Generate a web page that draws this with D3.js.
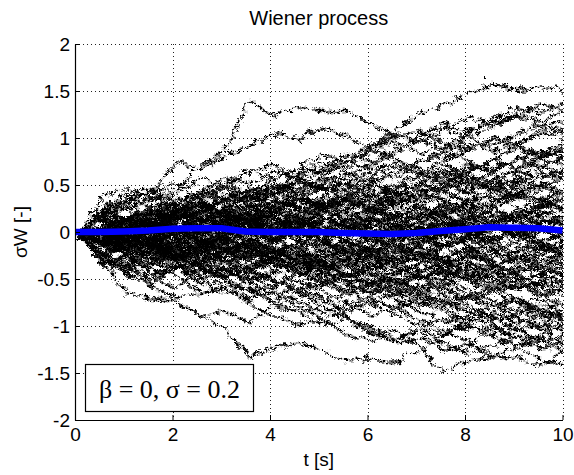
<!DOCTYPE html>
<html>
<head>
<meta charset="utf-8">
<script src="https://cdn.jsdelivr.net/npm/d3@7"></script>
<style>
  html, body { margin: 0; padding: 0; background: #fff; }
  svg { display: block; }
</style>
</head>
<body>
<svg id="chart" width="574" height="475"></svg>
<script>
// ---- data -------------------------------------------------------------
const timeGrid = [0, 0.5, 1, 1.5, 2, 2.5, 3, 3.5, 4, 4.5, 5, 5.5, 6, 6.5, 7, 7.5, 8, 8.5, 9, 9.5, 10];

// ensemble mean of the sample paths (blue curve)
const meanPath = [0, 0, 0.005, 0.015, 0.035, 0.04, 0.04, 0.005, 0, 0, 0, -0.01, -0.015, -0.02, -0.01, 0.01, 0.03, 0.05, 0.045, 0.04, 0.015];

// individual realisations sigma*W(t), sampled every 0.5 s
const samplePaths = [
  [0, 0.22, 0.30, 0.38, 0.50, 0.72, 0.90, 1.44, 1.27, 1.37, 1.33, 1.33, 1.18, 1.05, 1.12, 0.98, 0.90, 1.02, 0.95, 0.85, 0.92],
  [0, -0.05, 0.10, 0.18, 0.30, 0.22, 0.40, 0.52, 0.45, 0.65, 0.78, 0.70, 0.95, 1.12, 1.30, 1.38, 1.51, 1.62, 1.54, 1.58, 1.52],
  [0, 0.25, 0.40, 0.45, 0.79, 0.70, 0.85, 0.95, 1.08, 1.02, 1.15, 1.05, 0.92, 1.00, 0.88, 0.95, 1.10, 1.20, 1.28, 1.15, 1.22],
  [0, 0.42, 0.50, 0.38, 0.45, 0.60, 0.52, 0.68, 0.75, 0.62, 0.70, 0.85, 0.78, 0.92, 1.05, 1.18, 1.10, 1.25, 1.35, 1.30, 1.42],
  [0, -0.18, -0.30, -0.52, -0.70, -0.85, -1.00, -1.29, -1.20, -1.14, -1.22, -1.33, -1.30, -1.36, -1.22, -1.05, -0.95, -1.02, -0.90, -0.98, -0.85],
  [0, -0.05, -0.20, -0.35, -0.42, -0.60, -0.55, -0.72, -0.85, -0.95, -0.90, -1.05, -1.12, -1.00, -1.18, -1.45, -1.33, -1.28, -1.30, -1.39, -1.20],
  [0, -0.30, -0.62, -0.68, -0.70, -0.85, -0.80, -0.92, -0.75, -0.82, -0.95, -0.88, -1.02, -1.12, -0.98, -1.05, -0.92, -1.10, -1.18, -1.05, -1.12],
  [0, 0.18, -0.05, 0.10, 0.22, 0.15, 0.30, 0.42, 0.35, 0.50, 0.62, 0.55, 0.70, 0.78, 0.65, 0.80, 0.92, 1.05, 0.98, 1.12, 1.08],
  [0, -0.22, -0.35, -0.15, -0.30, -0.42, -0.35, -0.50, -0.62, -0.55, -0.68, -0.80, -0.72, -0.85, -0.95, -0.88, -1.02, -0.95, -1.10, -1.05, -0.98],
  [0, 0.25, 0.15, -0.08, 0.04, 0.18, 0.10, 0.25, 0.20, 0.08, 0.15, 0.28, 0.40, 0.32, 0.45, 0.38, 0.52, 0.60, 0.48, 0.55, 0.62],
  [0, -0.08, 0.05, 0.12, 0.02, -0.10, -0.02, -0.15, -0.25, -0.18, -0.30, -0.22, -0.35, -0.28, -0.40, -0.48, -0.42, -0.55, -0.50, -0.62, -0.58],
  [0, 0.28, 0.40, 0.30, 0.35, 0.48, 0.40, 0.32, 0.45, 0.58, 0.50, 0.38, 0.45, 0.30, 0.22, 0.35, 0.28, 0.15, 0.25, 0.12, 0.18],
  [0, -0.25, -0.40, -0.30, -0.32, -0.20, -0.35, -0.48, -0.40, -0.28, -0.38, -0.25, -0.12, -0.20, -0.08, 0.05, -0.05, 0.10, 0.02, 0.15, 0.08],
  [0, 0.05, 0.18, 0.10, 0.25, 0.38, 0.52, 0.45, 0.60, 0.72, 0.85, 0.78, 0.92, 1.05, 0.98, 1.12, 1.25, 1.18, 1.30, 1.22, 1.35],
  [0, -0.28, -0.20, -0.40, -0.35, -0.50, -0.62, -0.55, -0.70, -0.82, -0.75, -0.90, -1.02, -1.15, -1.08, -1.22, -1.15, -1.28, -1.20, -1.32, -1.38],
  [0, 0.10, 0.02, 0.15, 0.08, -0.05, -0.15, -0.08, 0.05, 0.12, 0.25, 0.18, 0.30, 0.22, 0.10, 0.02, -0.10, -0.02, 0.08, -0.05, 0.02],
  [0, -0.05, -0.15, -0.05, 0.08, 0.20, 0.12, 0.25, 0.18, 0.05, -0.08, -0.20, -0.12, -0.25, -0.38, -0.30, -0.42, -0.35, -0.48, -0.60, -0.52],
  [0, 0.30, 0.45, 0.52, 0.35, 0.48, 0.62, 0.55, 0.68, 0.60, 0.48, 0.55, 0.42, 0.50, 0.62, 0.75, 0.68, 0.80, 0.72, 0.85, 0.95],
  [0, -0.32, -0.22, -0.40, -0.38, -0.30, -0.45, -0.38, -0.25, -0.32, -0.45, -0.58, -0.70, -0.62, -0.75, -0.68, -0.80, -0.92, -0.85, -0.78, -0.90],
  [0, 0.08, 0.20, 0.12, 0.00, 0.10, 0.22, 0.35, 0.28, 0.40, 0.32, 0.20, 0.08, 0.15, 0.02, -0.10, -0.02, -0.15, -0.28, -0.20, -0.32],
  [0, -0.10, 0.02, -0.08, -0.20, -0.12, 0.00, 0.12, 0.05, 0.18, 0.30, 0.42, 0.35, 0.48, 0.40, 0.52, 0.65, 0.58, 0.70, 0.82, 0.75],
  [0, 0.05, -0.08, -0.20, -0.12, -0.25, -0.18, -0.05, 0.08, 0.00, -0.12, -0.05, 0.10, 0.02, -0.10, -0.22, -0.15, -0.28, -0.40, -0.32, -0.45],
  [0, 0.22, 0.35, 0.48, 0.28, 0.15, 0.25, 0.12, 0.02, 0.15, 0.05, 0.18, 0.28, 0.20, 0.32, 0.45, 0.38, 0.30, 0.42, 0.35, 0.28],
  [0, -0.12, -0.05, 0.08, 0.18, 0.10, 0.00, -0.12, -0.22, -0.35, -0.28, -0.40, -0.52, -0.45, -0.58, -0.70, -0.82, -0.75, -0.88, -1.00, -0.95],
  [0, 0.20, 0.30, 0.05, 0.15, 0.28, 0.40, 0.32, 0.20, 0.30, 0.42, 0.55, 0.48, 0.35, 0.45, 0.58, 0.70, 0.82, 0.95, 0.88, 1.00],
  [0, -0.20, -0.35, -0.45, -0.55, -0.35, -0.48, -0.60, -0.52, -0.40, -0.28, -0.35, -0.22, -0.32, -0.45, -0.38, -0.50, -0.42, -0.55, -0.48, -0.40],
  [0, 0.05, 0.15, 0.25, 0.18, 0.05, -0.05, 0.08, 0.20, 0.12, 0.25, 0.38, 0.30, 0.42, 0.55, 0.48, 0.35, 0.45, 0.38, 0.50, 0.45],
  [0, -0.05, 0.08, 0.00, -0.12, -0.02, -0.15, -0.25, -0.18, -0.30, -0.20, -0.08, -0.18, -0.05, 0.05, -0.08, 0.02, 0.12, 0.05, -0.05, 0.05],
  [0, 0.18, -0.02, -0.12, -0.25, -0.18, -0.30, -0.42, -0.55, -0.48, -0.60, -0.72, -0.65, -0.78, -0.70, -0.82, -0.95, -1.08, -1.00, -1.12, -1.05],
  [0, 0.25, 0.18, 0.30, 0.30, 0.42, 0.55, 0.68, 0.60, 0.72, 0.65, 0.78, 0.90, 0.82, 0.70, 0.62, 0.75, 0.65, 0.55, 0.68, 0.60],
  [0, -0.26, -0.42, -0.52, -0.32, -0.45, -0.55, -0.48, -0.62, -0.75, -0.88, -0.80, -0.68, -0.75, -0.62, -0.55, -0.68, -0.60, -0.72, -0.65, -0.75],
  [0, 0.02, 0.12, 0.22, 0.15, 0.28, 0.20, 0.10, -0.02, 0.08, -0.05, -0.15, -0.05, -0.18, -0.10, 0.02, 0.15, 0.08, 0.20, 0.32, 0.25],
  [0, -0.08, 0.05, 0.15, 0.25, 0.35, 0.28, 0.38, 0.50, 0.62, 0.72, 0.85, 0.95, 1.08, 1.00, 1.12, 1.05, 0.95, 1.08, 1.18, 1.10],
  [0, -0.02, -0.12, -0.02, 0.10, 0.02, -0.10, -0.22, -0.15, -0.28, -0.40, -0.32, -0.45, -0.58, -0.70, -0.62, -0.75, -0.88, -1.00, -0.92, -1.05],
  [0, 0.08, 0.00, -0.10, 0.02, 0.12, 0.05, 0.18, 0.08, -0.05, 0.05, -0.08, -0.20, -0.30, -0.22, -0.35, -0.28, -0.40, -0.32, -0.45, -0.55],
  [0, 0.12, 0.20, 0.10, 0.22, 0.15, 0.28, 0.40, 0.52, 0.45, 0.35, 0.48, 0.60, 0.52, 0.65, 0.55, 0.45, 0.58, 0.50, 0.62, 0.70],
  [0, -0.12, -0.20, -0.32, -0.22, -0.10, -0.20, -0.08, -0.18, -0.05, 0.08, 0.00, 0.12, 0.25, 0.18, 0.30, 0.22, 0.35, 0.45, 0.38, 0.48],
  [0, 0.05, -0.05, 0.08, -0.02, -0.15, -0.25, -0.35, -0.28, -0.38, -0.50, -0.62, -0.55, -0.45, -0.58, -0.50, -0.62, -0.75, -0.65, -0.78, -0.70],
  [0, -0.05, 0.05, 0.15, 0.08, 0.20, 0.10, 0.00, 0.12, 0.05, -0.05, 0.08, 0.20, 0.12, 0.02, 0.15, 0.05, -0.08, 0.02, 0.12, 0.22],
  [0, 0.10, 0.20, 0.30, 0.40, 0.32, 0.22, 0.12, 0.25, 0.15, 0.05, -0.05, 0.05, -0.08, -0.18, -0.28, -0.20, -0.32, -0.22, -0.35, -0.28],
  [0, -0.20, -0.32, -0.08, -0.20, -0.32, -0.42, -0.35, -0.48, -0.60, -0.52, -0.42, -0.55, -0.68, -0.80, -0.92, -0.85, -0.98, -1.10, -1.22, -1.15],
  [0, 0.06, 0.16, 0.08, -0.05, 0.05, 0.15, 0.28, 0.38, 0.30, 0.42, 0.35, 0.25, 0.38, 0.50, 0.62, 0.55, 0.68, 0.80, 0.72, 0.85],
  [0, -0.06, -0.16, -0.25, -0.15, -0.05, 0.05, -0.05, -0.18, -0.10, 0.02, 0.15, 0.05, -0.05, 0.08, 0.00, -0.12, -0.25, -0.15, -0.28, -0.20],
  [0, 0.26, 0.18, 0.15, 0.28, 0.20, 0.08, 0.18, 0.10, 0.22, 0.35, 0.25, 0.15, 0.05, 0.15, 0.25, 0.38, 0.50, 0.42, 0.55, 0.48],
  [0, -0.24, -0.42, -0.55, -0.65, -0.62, -0.55, -0.68, -0.58, -0.70, -0.82, -0.72, -0.85, -0.78, -0.90, -1.02, -1.12, -1.05, -1.18, -1.10, -1.25],
  [0, 0.04, -0.08, -0.18, -0.10, 0.02, 0.12, 0.22, 0.15, 0.25, 0.38, 0.30, 0.42, 0.55, 0.48, 0.38, 0.28, 0.40, 0.30, 0.20, 0.32],
  [0, -0.04, 0.06, -0.05, -0.15, -0.28, -0.20, -0.12, -0.25, -0.18, -0.30, -0.42, -0.35, -0.25, -0.15, -0.25, -0.38, -0.30, -0.42, -0.55, -0.65],
  [0, 0.20, 0.35, 0.45, 0.55, 0.38, 0.50, 0.42, 0.30, 0.40, 0.28, 0.18, 0.28, 0.15, 0.25, 0.12, 0.00, 0.10, -0.02, 0.08, -0.05],
  [0, -0.10, -0.20, -0.12, -0.25, -0.15, -0.28, -0.38, -0.48, -0.60, -0.70, -0.62, -0.50, -0.40, -0.30, -0.42, -0.32, -0.20, -0.30, -0.18, -0.10],
  [0, 0.02, 0.10, 0.20, 0.32, 0.25, 0.38, 0.50, 0.42, 0.55, 0.68, 0.80, 0.72, 0.62, 0.75, 0.88, 0.80, 0.70, 0.82, 0.75, 0.65],
  [0, -0.02, -0.10, -0.20, -0.28, -0.38, -0.30, -0.18, -0.28, -0.40, -0.32, -0.45, -0.35, -0.48, -0.60, -0.72, -0.65, -0.78, -0.70, -0.82, -0.92],
  [0, 0.08, 0.18, 0.08, 0.18, 0.30, 0.20, 0.32, 0.45, 0.58, 0.50, 0.62, 0.75, 0.88, 1.00, 0.92, 1.05, 1.15, 1.28, 1.40, 1.32],
  [0, -0.08, -0.18, -0.28, -0.20, -0.32, -0.45, -0.58, -0.70, -0.62, -0.75, -0.88, -0.98, -1.10, -1.02, -1.15, -1.25, -1.18, -1.08, -1.20, -1.12],
  [0, 0.06, -0.04, 0.06, 0.16, 0.06, -0.06, -0.16, -0.06, 0.06, 0.18, 0.10, -0.02, -0.12, -0.02, 0.10, 0.20, 0.10, 0.00, -0.12, -0.05],
  [0, -0.06, 0.04, 0.14, 0.04, -0.08, 0.02, 0.14, 0.26, 0.16, 0.06, 0.18, 0.08, 0.20, 0.30, 0.20, 0.08, -0.04, 0.08, 0.18, 0.10],
  [0, 0.24, 0.12, -0.10, -0.22, -0.12, -0.02, -0.14, -0.24, -0.34, -0.24, -0.12, 0.00, 0.10, 0.00, -0.12, -0.02, 0.10, 0.22, 0.12, 0.24],
  [0, -0.22, -0.10, 0.10, 0.22, 0.34, 0.24, 0.14, 0.26, 0.38, 0.50, 0.40, 0.30, 0.18, 0.06, 0.16, 0.04, -0.08, -0.18, -0.08, -0.20],
  [0, 0.03, 0.13, 0.25, 0.35, 0.45, 0.35, 0.23, 0.33, 0.45, 0.57, 0.67, 0.57, 0.67, 0.79, 0.89, 0.99, 0.89, 0.99, 1.09, 1.01],
  [0, -0.03, -0.13, -0.03, -0.13, -0.25, -0.37, -0.27, -0.15, -0.25, -0.37, -0.49, -0.61, -0.51, -0.63, -0.75, -0.65, -0.55, -0.67, -0.79, -0.89],
  [0, 0.09, 0.19, 0.09, -0.03, -0.15, -0.05, 0.07, -0.03, -0.15, -0.27, -0.17, -0.29, -0.41, -0.31, -0.21, -0.33, -0.45, -0.37, -0.27, -0.37],
  [0, -0.09, -0.19, -0.09, 0.03, 0.15, 0.27, 0.17, 0.29, 0.19, 0.31, 0.43, 0.55, 0.45, 0.57, 0.69, 0.59, 0.49, 0.61, 0.51, 0.41],
  [0, 0.07, 0.17, 0.27, 0.17, 0.29, 0.41, 0.31, 0.21, 0.09, 0.19, 0.07, -0.05, 0.05, 0.15, 0.05, 0.17, 0.29, 0.19, 0.31, 0.43],
  [0, -0.07, -0.17, -0.27, -0.37, -0.27, -0.15, -0.03, -0.13, -0.25, -0.15, -0.27, -0.39, -0.51, -0.41, -0.53, -0.43, -0.33, -0.21, -0.31, -0.43],
  [0, 0.20, 0.01, 0.11, 0.23, 0.13, 0.25, 0.15, 0.03, 0.13, 0.01, 0.13, 0.01, -0.11, -0.23, -0.13, -0.25, -0.15, -0.27, -0.39, -0.51],
  [0, -0.22, -0.10, -0.11, -0.23, -0.33, -0.45, -0.35, -0.47, -0.57, -0.47, -0.59, -0.49, -0.61, -0.51, -0.63, -0.75, -0.87, -0.77, -0.89, -0.79],
  [0, 0.05, 0.12, 0.02, -0.08, 0.04, 0.14, 0.06, -0.04, 0.08, 0.18, 0.28, 0.20, 0.10, 0.22, 0.32, 0.24, 0.36, 0.46, 0.38, 0.30],
  [0, -0.05, -0.12, -0.02, 0.08, -0.04, -0.14, -0.24, -0.16, -0.06, -0.18, -0.28, -0.20, -0.10, -0.22, -0.12, 0.00, 0.10, 0.00, -0.10, -0.22],
  [0, 0.07, -0.03, -0.13, -0.05, 0.07, 0.17, 0.27, 0.37, 0.29, 0.19, 0.09, 0.21, 0.33, 0.45, 0.57, 0.47, 0.59, 0.69, 0.61, 0.73],
  [0, -0.07, 0.03, 0.13, 0.05, -0.07, -0.17, -0.27, -0.37, -0.29, -0.41, -0.51, -0.43, -0.33, -0.45, -0.57, -0.69, -0.61, -0.73, -0.85, -0.77],
  [0, 0.24, 0.36, 0.15, 0.25, 0.35, 0.45, 0.37, 0.47, 0.39, 0.29, 0.41, 0.53, 0.43, 0.33, 0.23, 0.35, 0.45, 0.57, 0.67, 0.59],
  [0, -0.25, -0.38, -0.15, -0.05, -0.15, -0.27, -0.17, -0.07, 0.03, -0.07, -0.19, -0.29, -0.39, -0.31, -0.43, -0.35, -0.47, -0.57, -0.49, -0.61],
  [0, 0.02, -0.06, 0.04, 0.14, 0.24, 0.16, 0.06, 0.16, 0.04, -0.06, -0.16, -0.26, -0.16, -0.04, 0.08, 0.18, 0.28, 0.18, 0.30, 0.40],
  [0, -0.02, 0.06, -0.04, -0.14, -0.24, -0.16, -0.06, -0.16, -0.28, -0.38, -0.28, -0.18, -0.30, -0.20, -0.08, -0.18, -0.06, 0.04, -0.06, 0.06],
  [0, 0.09, 0.01, 0.11, 0.01, 0.11, 0.21, 0.13, 0.25, 0.37, 0.29, 0.39, 0.31, 0.43, 0.55, 0.65, 0.77, 0.69, 0.81, 0.91, 0.83],
  [0, -0.09, -0.01, -0.11, -0.21, -0.11, -0.21, -0.33, -0.25, -0.37, -0.47, -0.39, -0.51, -0.63, -0.55, -0.45, -0.57, -0.69, -0.81, -0.71, -0.83],
  [0, 0.04, 0.14, 0.24, 0.16, 0.06, -0.04, 0.06, -0.06, -0.16, -0.08, 0.04, 0.14, 0.04, -0.06, 0.06, -0.04, -0.16, -0.06, 0.06, -0.02],
  [0, -0.04, -0.14, -0.24, -0.16, -0.06, 0.04, 0.16, 0.08, 0.18, 0.08, 0.20, 0.10, 0.00, 0.10, 0.22, 0.12, 0.24, 0.14, 0.04, 0.16],
  [0, 0.22, 0.34, 0.45, 0.23, 0.33, 0.25, 0.15, 0.05, -0.05, 0.05, -0.05, -0.17, -0.29, -0.19, -0.31, -0.21, -0.11, -0.23, -0.13, -0.25],
  [0, -0.22, -0.36, -0.46, -0.35, -0.45, -0.43, -0.33, -0.23, -0.13, -0.03, 0.07, -0.03, 0.09, 0.21, 0.11, 0.23, 0.13, 0.25, 0.37, 0.29],
  [0, 0.06, 0.14, 0.22, 0.32, 0.42, 0.34, 0.46, 0.56, 0.48, 0.60, 0.52, 0.64, 0.74, 0.66, 0.56, 0.68, 0.80, 0.92, 0.84, 0.96],
  [0, -0.06, -0.14, -0.22, -0.32, -0.42, -0.34, -0.46, -0.38, -0.50, -0.40, -0.52, -0.62, -0.54, -0.66, -0.78, -0.90, -0.82, -0.94, -0.86, -0.98],
  [0, 0.03, -0.07, -0.15, -0.25, -0.17, -0.07, 0.03, -0.07, 0.05, 0.15, 0.05, 0.17, 0.07, -0.03, -0.13, -0.03, 0.09, -0.01, -0.13, -0.23],
  [0, -0.03, 0.07, 0.15, 0.25, 0.17, 0.07, -0.03, 0.07, -0.05, -0.15, -0.05, -0.17, -0.07, 0.03, 0.13, 0.03, -0.09, 0.01, 0.13, 0.23],
  [0, 0.10, 0.04, 0.16, 0.26, 0.18, 0.30, 0.20, 0.32, 0.22, 0.34, 0.24, 0.14, 0.26, 0.16, 0.28, 0.18, 0.06, 0.16, 0.04, 0.14],
  [0, -0.10, -0.04, -0.16, -0.26, -0.18, -0.30, -0.20, -0.32, -0.22, -0.34, -0.24, -0.14, -0.26, -0.16, -0.28, -0.40, -0.52, -0.42, -0.54, -0.46],
  [0, 0.08, 0.16, 0.26, 0.18, 0.28, 0.38, 0.48, 0.40, 0.30, 0.20, 0.12, 0.24, 0.34, 0.26, 0.16, 0.06, 0.16, 0.26, 0.36, 0.46],
  [0, -0.08, -0.16, -0.26, -0.18, -0.28, -0.38, -0.48, -0.40, -0.30, -0.20, -0.30, -0.42, -0.52, -0.44, -0.34, -0.46, -0.58, -0.50, -0.40, -0.52],
  [0, 0.01, 0.09, -0.01, 0.09, 0.19, 0.09, 0.19, 0.29, 0.41, 0.53, 0.45, 0.55, 0.47, 0.37, 0.49, 0.61, 0.53, 0.43, 0.53, 0.45],
  [0, -0.01, -0.09, 0.01, -0.09, -0.19, -0.09, -0.19, -0.29, -0.41, -0.33, -0.23, -0.35, -0.47, -0.39, -0.29, -0.19, -0.31, -0.41, -0.33, -0.21],
  [0, 0.22, 0.04, -0.06, 0.04, -0.06, -0.18, -0.10, -0.20, -0.12, -0.24, -0.14, -0.04, -0.14, -0.26, -0.36, -0.46, -0.38, -0.48, -0.40, -0.30],
  [0, -0.20, -0.04, 0.06, -0.04, 0.06, 0.18, 0.10, 0.20, 0.12, 0.24, 0.36, 0.28, 0.40, 0.30, 0.20, 0.32, 0.22, 0.12, 0.24, 0.12],
  [0, 0.05, 0.15, 0.07, 0.17, 0.09, -0.01, -0.11, -0.03, 0.07, -0.03, -0.13, -0.25, -0.35, -0.45, -0.37, -0.49, -0.61, -0.53, -0.65, -0.57],
  [0, -0.05, -0.15, -0.07, -0.17, -0.09, 0.01, 0.11, 0.03, 0.15, 0.27, 0.39, 0.31, 0.43, 0.55, 0.47, 0.59, 0.51, 0.63, 0.73, 0.85],
  [0, 0.03, 0.11, 0.19, 0.11, 0.01, 0.11, 0.21, 0.11, 0.21, 0.11, -0.01, -0.11, -0.01, 0.09, -0.01, 0.11, 0.01, -0.09, -0.19, -0.09],
  [0, -0.03, -0.11, -0.19, -0.11, -0.01, -0.11, -0.21, -0.11, -0.21, -0.31, -0.41, -0.31, -0.21, -0.11, -0.23, -0.13, -0.25, -0.15, -0.05, -0.17]
];

const xTicks = [0, 2, 4, 6, 8, 10];
const yTicks = [-2, -1.5, -1, -0.5, 0, 0.5, 1, 1.5, 2];

const titleText = "Wiener process";
const xLabel = "t [s]";
const yLabel = "σW [-]";
const legendText = "β = 0, σ = 0.2";

// ---- layout -----------------------------------------------------------
const svg = d3.select("#chart");
const W = 574, H = 475;
const plot = { left: 75, right: 562.5, top: 44, bottom: 420 };

svg.append("rect").attr("width", W).attr("height", H).attr("fill", "#fff");

const x = d3.scaleLinear().domain([0, 10]).range([plot.left, plot.right]);
const y = d3.scaleLinear().domain([-2, 2]).range([plot.bottom, plot.top]);

const defs = svg.append("defs");
defs.append("clipPath").attr("id", "plotClip")
  .append("rect")
  .attr("x", plot.left + 0.5).attr("y", plot.top)
  .attr("width", plot.right - plot.left).attr("height", plot.bottom - plot.top - 0.5);

// two-scale roughness for the thin sample-path strokes
const rough = defs.append("filter").attr("id", "rough")
  .attr("filterUnits", "userSpaceOnUse")
  .attr("x", 0).attr("y", 0).attr("width", W).attr("height", H);
rough.append("feTurbulence")
  .attr("type", "turbulence").attr("baseFrequency", "0.08 0.12")
  .attr("numOctaves", 2).attr("seed", 7).attr("result", "coarse");
rough.append("feDisplacementMap")
  .attr("in", "SourceGraphic").attr("in2", "coarse")
  .attr("scale", 9).attr("xChannelSelector", "R").attr("yChannelSelector", "G")
  .attr("result", "wavy");
rough.append("feTurbulence")
  .attr("type", "turbulence").attr("baseFrequency", 0.45)
  .attr("numOctaves", 1).attr("seed", 3).attr("result", "fine");
rough.append("feDisplacementMap")
  .attr("in", "wavy").attr("in2", "fine")
  .attr("scale", 4).attr("xChannelSelector", "G").attr("yChannelSelector", "R");

// ---- grid -------------------------------------------------------------
const grid = svg.append("g").attr("class", "grid")
  .attr("stroke", "#222").attr("stroke-width", 1).attr("stroke-dasharray", "1,3");
grid.selectAll("line.gx").data(xTicks.filter(t => t > 0)).join("line")
  .attr("class", "gx")
  .attr("x1", d => Math.round(x(d)) + 0.5).attr("x2", d => Math.round(x(d)) + 0.5)
  .attr("y1", plot.top).attr("y2", plot.bottom);
grid.selectAll("line.gy").data(yTicks.filter(t => t > -2)).join("line")
  .attr("class", "gy")
  .attr("x1", plot.left).attr("x2", plot.right)
  .attr("y1", d => Math.round(y(d)) + 0.5).attr("y2", d => Math.round(y(d)) + 0.5);

// ---- sample paths -----------------------------------------------------
const pathLine = d3.line()
  .x((d, i) => x(timeGrid[i]))
  .y(d => y(d));

svg.append("g").attr("clip-path", "url(#plotClip)")
  .append("g").attr("filter", "url(#rough)")
  .selectAll("path").data(samplePaths).join("path")
  .attr("d", pathLine)
  .attr("fill", "none")
  .attr("stroke", "#000")
  .attr("stroke-width", 2.3)
  .attr("stroke-dasharray", "2.5,0.8");

// ---- mean path --------------------------------------------------------
svg.append("path")
  .datum(meanPath)
  .attr("d", pathLine)
  .attr("fill", "none")
  .attr("stroke", "#0000ff")
  .attr("stroke-width", 6.5)
  .attr("stroke-linejoin", "round");

// ---- axes -------------------------------------------------------------
const fmt = d => String(d);
const xAxis = d3.axisBottom(x).tickValues(xTicks).tickFormat(fmt)
  .tickSizeInner(-5).tickSizeOuter(0).tickPadding(8);
const yAxis = d3.axisLeft(y).tickValues(yTicks).tickFormat(fmt)
  .tickSizeInner(-5).tickSizeOuter(0).tickPadding(5);

const gx = svg.append("g").attr("transform", `translate(0,${plot.bottom})`).call(xAxis);
const gy = svg.append("g").attr("transform", `translate(${plot.left},0)`).call(yAxis);
[gx, gy].forEach(g => {
  g.select(".domain").attr("stroke", "#000").attr("stroke-width", 1.2);
  g.selectAll(".tick line").attr("stroke", "#000");
  g.selectAll("text").attr("fill", "#000")
    .attr("font-family", "Liberation Sans, Arial, sans-serif").attr("font-size", 19);
});

// ---- titles -----------------------------------------------------------
svg.append("text").attr("x", (plot.left + plot.right) / 2).attr("y", 25)
  .attr("text-anchor", "middle").attr("font-family", "Liberation Sans, Arial, sans-serif")
  .attr("font-size", 20).text(titleText);
svg.append("text").attr("x", (plot.left + plot.right) / 2).attr("y", 466)
  .attr("text-anchor", "middle").attr("font-family", "Liberation Sans, Arial, sans-serif")
  .attr("font-size", 19).text(xLabel);
svg.append("text").attr("transform", `translate(27,${y(0)}) rotate(-90)`)
  .attr("text-anchor", "middle").attr("font-family", "Liberation Sans, Arial, sans-serif")
  .attr("font-size", 19).text(yLabel);

// ---- annotation box ---------------------------------------------------
const box = svg.append("g");
box.append("rect").attr("x", 85.5).attr("y", 364.5).attr("width", 168).attr("height", 47)
  .attr("fill", "#fff").attr("stroke", "#000").attr("stroke-width", 1.2);
box.append("text").attr("x", 169.5).attr("y", 398)
  .attr("text-anchor", "middle").attr("font-family", "Liberation Serif, Times New Roman, serif")
  .attr("font-size", 26).text(legendText);
</script>
</body>
</html>
